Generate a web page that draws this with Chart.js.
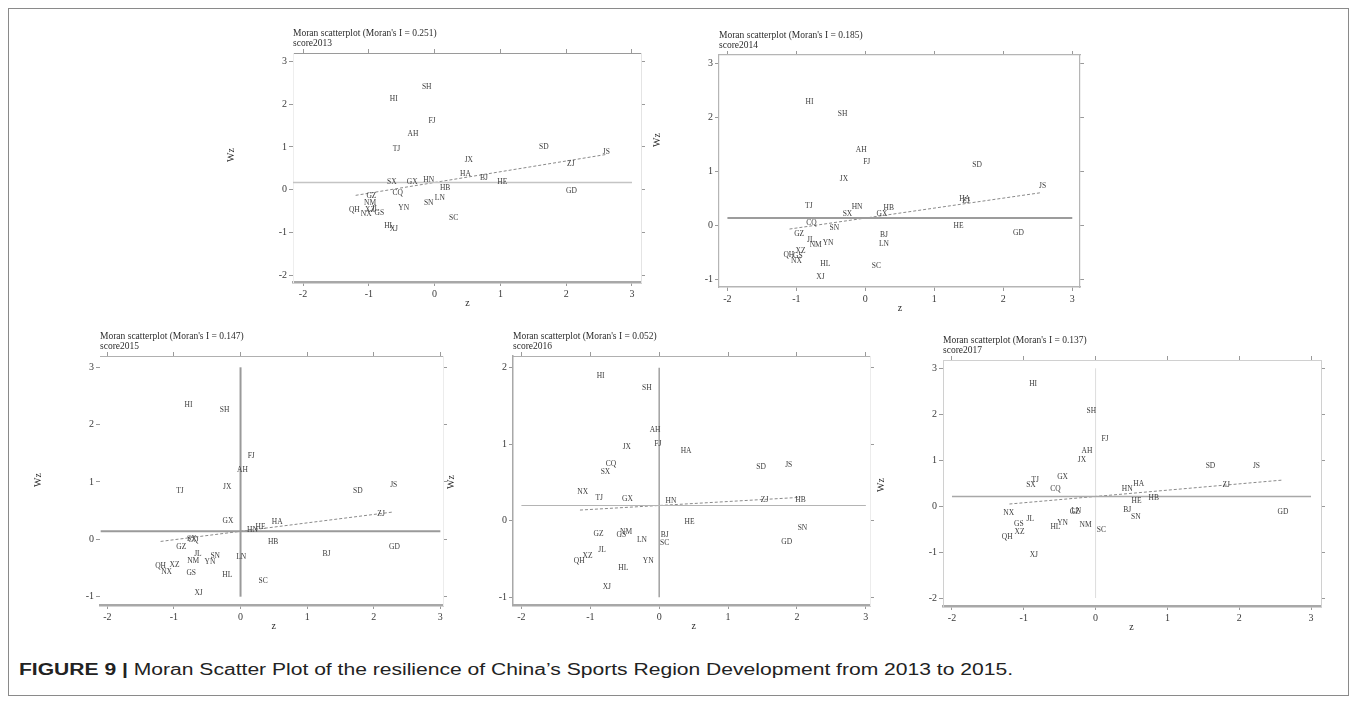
<!DOCTYPE html>
<html>
<head>
<meta charset="utf-8">
<title>Moran scatter plots 2013-2017</title>
<script src="https://cdn.jsdelivr.net/npm/chart.js@4.4.1/dist/chart.umd.min.js"></script>
<style>
  html, body { margin: 0; padding: 0; background: #fff; }
  body { width: 1357px; height: 705px; position: relative; overflow: hidden; }
  .frame { position: absolute; left: 8px; top: 8px; width: 1341px; height: 688px; border: 1px solid #8a8a8a; box-sizing: border-box; }
  canvas { position: absolute; }
  #caption { position: absolute; left: 19px; top: 661px; white-space: nowrap; font-family: "Liberation Sans", Arial, sans-serif; font-size: 16px; color: #222; transform-origin: 0 0; }
  #caption b { font-weight: bold; }
</style>
</head>
<body>
<div class="frame"></div>
<div id="caption"><b>FIGURE 9 |</b> Moran Scatter Plot of the resilience of China’s Sports Region Development from 2013 to 2015.</div>
<script>
// ---- data: province codes, standardized score z and spatial lag Wz ----
const xTicks = [-2, -1, 0, 1, 2, 3];

const labels2013 = ['SH','HI','FJ','TJ','AH','SD','JS','JX','ZJ','HA','BJ','HE','SX','GX','HN','HB','CQ','GD','GZ','LN','SN','NM','YN','QH','NX','XZ','JL','GS','SC','HL','XJ'];
const z2013  = [-0.12,-0.62,-0.04,-0.58,-0.33,1.66,2.61,0.52,2.07,0.47,0.75,1.03,-0.65,-0.34,-0.09,0.16,-0.56,2.08,-0.96,0.08,-0.09,-0.98,-0.47,-1.22,-1.04,-0.98,-0.90,-0.84,0.29,-0.69,-0.62];
const wz2013 = [2.39,2.12,1.61,0.95,1.30,1.00,0.88,0.69,0.59,0.36,0.28,0.17,0.17,0.18,0.22,0.04,-0.08,-0.04,-0.15,-0.20,-0.31,-0.30,-0.42,-0.47,-0.56,-0.48,-0.44,-0.54,-0.66,-0.84,-0.92];
const yTicks2013 = [-2, -1, 0, 1, 2, 3];

const labels2014 = ['HI','SH','AH','FJ','SD','JX','JS','HA','ZJ','TJ','HN','HB','SX','GX','CQ','HE','SN','GD','GZ','BJ','JL','NM','YN','LN','XZ','QH','GS','NX','HL','SC','XJ'];
const z2014  = [-0.81,-0.33,-0.06,0.02,1.62,-0.31,2.57,1.44,1.46,-0.82,-0.12,0.34,-0.26,0.24,-0.78,1.35,-0.45,2.22,-0.96,0.27,-0.79,-0.72,-0.54,0.27,-0.94,-1.11,-0.98,-1.00,-0.58,0.16,-0.65];
const wz2014 = [2.28,2.06,1.40,1.17,1.12,0.86,0.72,0.49,0.44,0.36,0.33,0.31,0.21,0.21,0.04,-0.01,-0.05,-0.14,-0.16,-0.19,-0.28,-0.37,-0.33,-0.35,-0.48,-0.56,-0.57,-0.67,-0.72,-0.76,-0.96];
const yTicks2014 = [-1, 0, 1, 2, 3];

const labels2015 = ['HI','SH','FJ','AH','TJ','JX','SD','JS','ZJ','GX','HA','HE','HN','SX','CQ','HB','GZ','GD','BJ','JL','SN','LN','NM','YN','QH','XZ','NX','GS','HL','SC','XJ'];
const z2015  = [-0.78,-0.24,0.16,0.03,-0.91,-0.20,1.76,2.30,2.11,-0.19,0.55,0.30,0.18,-0.73,-0.71,0.49,-0.89,2.31,1.29,-0.64,-0.38,0.01,-0.71,-0.46,-1.20,-0.99,-1.11,-0.74,-0.20,0.34,-0.63];
const wz2015 = [2.34,2.25,1.45,1.21,0.84,0.92,0.84,0.95,0.45,0.32,0.30,0.22,0.17,0.01,-0.02,-0.05,-0.13,-0.13,-0.26,-0.25,-0.29,-0.30,-0.37,-0.40,-0.47,-0.45,-0.57,-0.58,-0.63,-0.73,-0.94];
const yTicks2015 = [-1, 0, 1, 2, 3];

const labels2016 = ['HI','SH','AH','FJ','JX','HA','CQ','SX','SD','JS','NX','TJ','GX','HN','ZJ','HB','HE','SN','GZ','GS','NM','BJ','LN','SC','GD','JL','XZ','QH','YN','HL','XJ'];
const z2016  = [-0.85,-0.18,-0.06,-0.02,-0.47,0.39,-0.70,-0.78,1.48,1.88,-1.11,-0.87,-0.46,0.17,1.53,2.05,0.44,2.08,-0.88,-0.55,-0.48,0.08,-0.25,0.08,1.85,-0.83,-1.04,-1.16,-0.16,-0.52,-0.76];
const wz2016 = [1.89,1.74,1.18,1.00,0.96,0.91,0.74,0.64,0.70,0.73,0.38,0.30,0.28,0.26,0.27,0.27,-0.02,-0.10,-0.17,-0.18,-0.15,-0.18,-0.25,-0.29,-0.28,-0.38,-0.46,-0.52,-0.52,-0.62,-0.87];
const yTicks2016 = [-1, 0, 1, 2];

const labels2017 = ['HI','SH','FJ','AH','JX','SD','JS','GX','TJ','SX','CQ','HA','ZJ','HN','HB','HE','BJ','GZ','LN','GD','NX','SN','JL','GS','YN','HL','NM','XZ','SC','QH','XJ'];
const z2017  = [-0.87,-0.06,0.13,-0.12,-0.19,1.60,2.24,-0.46,-0.84,-0.90,-0.56,0.60,1.82,0.44,0.81,0.57,0.44,-0.29,-0.27,2.61,-1.21,0.56,-0.91,-1.07,-0.46,-0.56,-0.14,-1.06,0.08,-1.23,-0.86];
const wz2017 = [2.66,2.08,1.47,1.20,1.01,0.88,0.88,0.63,0.56,0.45,0.38,0.49,0.45,0.37,0.17,0.12,-0.08,-0.12,-0.11,-0.13,-0.15,-0.24,-0.28,-0.39,-0.37,-0.46,-0.42,-0.56,-0.53,-0.67,-1.06];
const yTicks2017 = [-2, -1, 0, 1, 2, 3];

// Moran's I (slope of the fitted line) and mean of Wz for each year
const years     = [2013, 2014, 2015, 2016, 2017];
const moranI    = [0.251, 0.185, 0.147, 0.052, 0.137];
const meanWz    = [0.17, 0.13, 0.14, 0.20, 0.21];
const fitStartZ = [-1.20, -1.10, -1.20, -1.15, -1.20];
const fitEndZ   = [2.60, 2.55, 2.30, 2.05, 2.60];

// ---- layout ----
const SERIF = '"Liberation Serif", "Times New Roman", serif';
const PAD_L = 70, PAD_T = 45, PAD_R = 25, PAD_B = 40;
const Y_W = 30, Y2_W = 8, X_H = 24, X2_H = 8;

const panels = [
  { names: labels2013, z: z2013, wz: wz2013, yTicks: yTicks2013,
    area: { l: 293, t: 53, r: 641, b: 282 }, xr: [-2.152, 3.137], yr: [-2.157, 3.197], wzY: 155,
    frame: { top: ['#9a9a9a', 1], bottom: ['#a8a8a8', 2.5], left: ['#eeeeee', 1], right: ['#e4e4e4', 1] },
    hline: { from: -2.152, to: 3, color: '#c4c4c4', width: 1.5 }, vline: null },
  { names: labels2014, z: z2014, wz: wz2014, yTicks: yTicks2014,
    area: { l: 719, t: 55, r: 1080, b: 287 }, xr: [-2.122, 3.112], yr: [-1.148, 3.154], wzY: 140,
    frame: { top: ['#b5b5b5', 1.2], bottom: ['#b5b5b5', 1.5], left: ['#b5b5b5', 1.2], right: ['#b5b5b5', 1.2] },
    hline: { from: -2, to: 3, color: '#9c9c9c', width: 2 }, vline: null },
  { names: labels2015, z: z2015, wz: wz2015, yTicks: yTicks2015,
    area: { l: 100, t: 356, r: 443, b: 605 }, xr: [-2.11, 3.04], yr: [-1.145, 3.197], wzY: 480,
    frame: { top: ['#b0b0b0', 1], bottom: ['#a8a8a8', 2.5], left: ['rgba(0,0,0,0)', 0], right: ['#ececec', 1] },
    hline: { from: -2.1, to: 3, color: '#9a9a9a', width: 2 }, vline: { from: -1, to: 3, color: '#9a9a9a', width: 2 } },
  { names: labels2016, z: z2016, wz: wz2016, yTicks: yTicks2016,
    area: { l: 513, t: 356, r: 870, b: 605 }, xr: [-2.122, 3.06], yr: [-1.10, 2.153], wzY: 482,
    frame: { top: ['#b0b0b0', 1], bottom: ['#a8a8a8', 2.5], left: ['#a8a8a8', 1.5], right: ['#ececec', 1] },
    hline: { from: -2, to: 3, color: '#b4b4b4', width: 1.2 }, vline: { from: -1, to: 2, color: '#a0a0a0', width: 1.5 } },
  { names: labels2017, z: z2017, wz: wz2017, yTicks: yTicks2017,
    area: { l: 943, t: 360, r: 1321, b: 606 }, xr: [-2.125, 3.139], yr: [-2.174, 3.18], wzY: 485,
    frame: { top: ['#d0d0d0', 1], bottom: ['#a8a8a8', 2.5], left: ['#d0d0d0', 1], right: ['#d0d0d0', 1] },
    hline: { from: -2, to: 3, color: '#a8a8a8', width: 1.5 }, vline: { from: -2, to: 3, color: '#dddddd', width: 1 } }
];

function axis(pos, range, ticks, side, showLabels, size) {
  const vertical = pos === 'left' || pos === 'right';
  return {
    type: 'linear', position: pos, min: range[0], max: range[1],
    afterBuildTicks: s => { s.ticks = ticks.map(v => ({ value: v })); },
    afterFit: s => { if (vertical) s.width = size; else s.height = size; },
    grid: { display: true, drawOnChartArea: false, drawTicks: true, tickLength: 4, tickWidth: 1, tickColor: '#9a9a9a', color: '#9a9a9a' },
    border: { display: side[1] > 0, color: side[0], width: side[1] },
    ticks: { display: showLabels, font: { family: SERIF, size: 10 }, color: '#3a3a3a', padding: 2, maxRotation: 0, autoSkip: false }
  };
}

// text overlay: province codes at each point, title, axis titles
const panelText = {
  id: 'panelText',
  afterDatasetsDraw(chart, args, opts) {
    const ctx = chart.ctx;
    const meta = chart.getDatasetMeta(0);
    ctx.save();
    ctx.font = '7.5px ' + SERIF;
    ctx.fillStyle = '#3c3c3c';
    ctx.textAlign = 'center';
    ctx.textBaseline = 'middle';
    meta.data.forEach((el, i) => ctx.fillText(opts.names[i], el.x, el.y));
    ctx.restore();
  },
  afterDraw(chart, args, opts) {
    const ctx = chart.ctx, a = chart.chartArea, xs = chart.scales.x;
    ctx.save();
    ctx.fillStyle = '#2c2c2c';
    ctx.textBaseline = 'middle';
    ctx.textAlign = 'left';
    ctx.font = '9.5px ' + SERIF;
    ctx.fillText(opts.title, a.left, a.top - 19.5);
    ctx.fillText(opts.subtitle, a.left, a.top - 9.5);
    ctx.textAlign = 'center';
    ctx.font = '10px ' + SERIF;
    ctx.fillText('z', xs.getPixelForValue(0.5), a.bottom + 21);
    ctx.translate(a.left - 62, opts.wzY - chart.canvas.offsetTop);
    ctx.rotate(-Math.PI / 2);
    ctx.fillText('Wz', 0, 0);
    ctx.restore();
  }
};

panels.forEach((p, k) => {
  const A = p.area;
  const W = A.r - A.l + PAD_L + PAD_R;
  const H = A.b - A.t + PAD_T + PAD_B;
  const canvas = document.createElement('canvas');
  canvas.width = W; canvas.height = H;
  canvas.style.width = W + 'px'; canvas.style.height = H + 'px';
  canvas.style.left = (A.l - PAD_L) + 'px';
  canvas.style.top = (A.t - PAD_T) + 'px';
  document.body.appendChild(canvas);

  const I = moranI[k], m = meanWz[k];
  const datasets = [
    { data: p.z.map((v, i) => ({ x: v, y: p.wz[i] })), pointRadius: 0, showLine: false, xAxisID: 'x', yAxisID: 'y' },
    { data: [{ x: p.hline.from, y: m }, { x: p.hline.to, y: m }], showLine: true, pointRadius: 0,
      borderColor: p.hline.color, borderWidth: p.hline.width, xAxisID: 'x', yAxisID: 'y' },
    { data: [fitStartZ[k], fitEndZ[k]].map(x => ({ x, y: m + I * x })), showLine: true, pointRadius: 0,
      borderColor: '#8a8a8a', borderWidth: 1, borderDash: [3, 2], xAxisID: 'x', yAxisID: 'y' }
  ];
  if (p.vline) {
    datasets.push({ data: [{ x: 0, y: p.vline.from }, { x: 0, y: p.vline.to }], showLine: true, pointRadius: 0,
      borderColor: p.vline.color, borderWidth: p.vline.width, xAxisID: 'x', yAxisID: 'y' });
  }

  new Chart(canvas, {
    type: 'scatter',
    data: { datasets },
    options: {
      responsive: false, animation: false, events: [],
      layout: { padding: { left: PAD_L - Y_W, top: PAD_T - X2_H, right: PAD_R - Y2_W, bottom: PAD_B - X_H } },
      plugins: {
        legend: { display: false }, tooltip: { enabled: false },
        panelText: { names: p.names, title: "Moran scatterplot (Moran's I = " + moranI[k].toFixed(3) + ")",
                     subtitle: 'score' + years[k], wzY: p.wzY }
      },
      scales: {
        x:  axis('bottom', p.xr, xTicks, p.frame.bottom, true, X_H),
        x2: axis('top', p.xr, xTicks, p.frame.top, false, X2_H),
        y:  axis('left', p.yr, p.yTicks, p.frame.left, true, Y_W),
        y2: axis('right', p.yr, p.yTicks, p.frame.right, false, Y2_W)
      }
    },
    plugins: [panelText]
  });
});

// stretch caption to its printed width
const cap = document.getElementById('caption');
const w = cap.getBoundingClientRect().width;
cap.style.transform = 'scaleX(' + (994 / w) + ')';
</script>
</body>
</html>
